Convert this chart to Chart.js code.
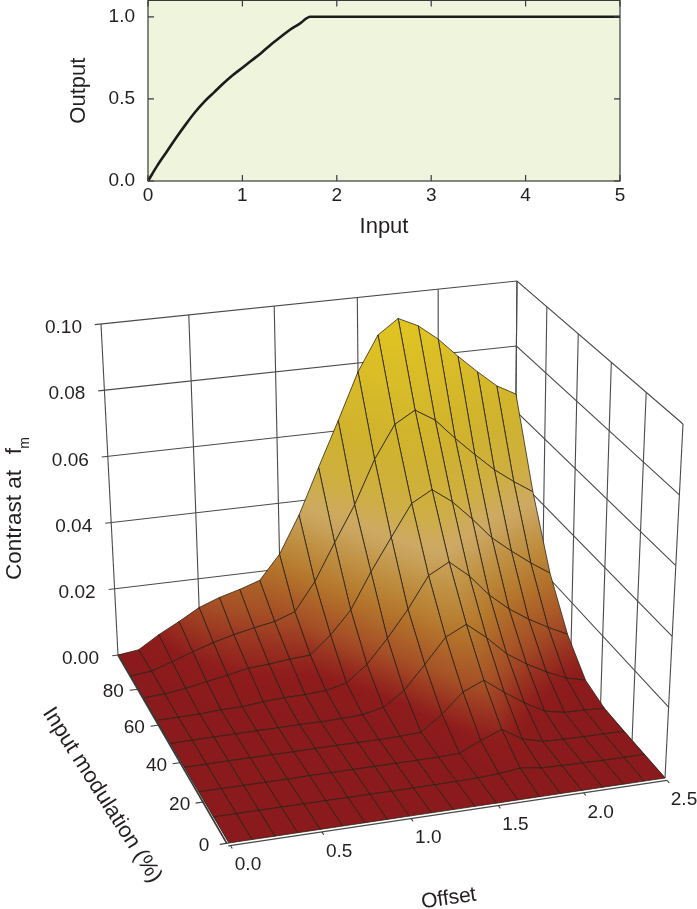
<!DOCTYPE html>
<html>
<head>
<meta charset="utf-8">
<style>
html, body { margin: 0; padding: 0; background: #fff; overflow: hidden; }
#top { position: absolute; left: 0; top: -24px; }
#bottom { position: absolute; left: 0; top: 250px; }
</style>
<script src="https://cdn.jsdelivr.net/npm/chart.js@4/dist/chart.umd.min.js"></script>
</head>
<body>
<div id="top" style="width:697px;height:274px"><canvas id="transfer"></canvas></div>
<div id="bottom" style="width:697px;height:659px"><canvas id="surface"></canvas></div>
<script>
// top panel
const inputValues = [0, 0.1, 0.2, 0.3, 0.4, 0.5, 0.6, 0.7, 0.8, 0.9, 1.0, 1.1, 1.2, 1.3, 1.4, 1.5, 1.6, 1.72, 2, 3, 4, 5];
const outputValues = [0, 0.095, 0.18, 0.265, 0.345, 0.42, 0.485, 0.54, 0.595, 0.645, 0.69, 0.735, 0.78, 0.83, 0.875, 0.92, 0.955, 1, 1, 1, 1, 1];

// bottom panel axes
const offsetTicks = [0, 0.5, 1, 1.5, 2, 2.5];
const modulationTicks = [0, 20, 40, 60, 80];
const modulationWall = [0, 20, 40, 60, 80, 100];
const contrastTicks = [0, 0.02, 0.04, 0.06, 0.08, 0.1];
const offsetGrid = [0, 0.125, 0.25, 0.375, 0.5, 0.625, 0.75, 0.875, 1, 1.125, 1.25, 1.375, 1.5, 1.625, 1.75, 1.875, 2, 2.125, 2.25, 2.375, 2.5];
const modulationGrid = [100, 87.5, 75, 62.5, 50, 37.5, 25, 12.5, 0];

// contrast at fm, one list per modulation row, left to right along offset
const contrast100 = [0, 0.0008, 0.0046, 0.0078, 0.0113, 0.0136, 0.0153, 0.0173, 0.0245, 0.0357, 0.0495, 0.0631, 0.0773, 0.0879, 0.0923, 0.0894, 0.0847, 0.0788, 0.0734, 0.0684, 0.0652];
const contrast875 = [0, 0.0007, 0.0027, 0.0049, 0.0069, 0.0085, 0.0098, 0.0109, 0.0131, 0.0214, 0.0324, 0.0431, 0.0561, 0.066, 0.0696, 0.0659, 0.0597, 0.0541, 0.0488, 0.0445, 0.0407];
const contrast750 = [0, 0.0004, 0.0012, 0.0024, 0.0035, 0.0048, 0.0052, 0.0059, 0.0063, 0.0115, 0.0182, 0.0288, 0.0384, 0.0478, 0.0512, 0.0469, 0.041, 0.0346, 0.0299, 0.0256, 0.0218];
const contrast625 = [0, 0.0001, 0.0002, 0.0006, 0.0007, 0.0013, 0.0017, 0.0018, 0.0022, 0.0036, 0.0083, 0.0152, 0.023, 0.0322, 0.0355, 0.0306, 0.0242, 0.0193, 0.0155, 0.0123, 0.0095];
const contrast500 = [0, 0.0001, 0.0002, 0.0002, 0.0003, 0.0003, 0.0004, 0.0004, 0.0005, 0.0008, 0.0021, 0.0062, 0.013, 0.0202, 0.0232, 0.0185, 0.013, 0.0092, 0.0061, 0.0035, 0.0021];
const contrast375 = [0, 0, 0.0001, 0.0001, 0.0001, 0.0001, 0.0002, 0.0002, 0.0002, 0.0002, 0.0003, 0.0006, 0.005, 0.0106, 0.0132, 0.0089, 0.005, 0.0018, 0.0006, 0.0005, 0.0002];
const contrast250 = [0, 0, 0, 0, 0, 0.0001, 0.0001, 0.0001, 0.0001, 0.0001, 0.0001, 0.0002, 0.0004, 0.0032, 0.0055, 0.002, 0.0004, 0.0002, 0.0001, 0.0001, 0];
const contrast125 = [0, 0, 0, 0, 0, 0, 0, 0, 0, 0, 0, 0.0001, 0.0002, 0.0005, 0.0012, 0.0004, 0.0002, 0.0001, 0, 0, 0];
const contrast000 = [0, 0, 0, 0, 0, 0, 0, 0, 0, 0, 0, 0, 0, 0, 0, 0, 0, 0, 0, 0, 0];
const contrastRows = [contrast100, contrast875, contrast750, contrast625, contrast500, contrast375, contrast250, contrast125, contrast000];

// colour ramp of the surface
const rampLevels = [0, 0.004, 0.012, 0.022, 0.03, 0.038, 0.047, 0.06, 0.09];
const rampColours = [[138, 26, 28], [143, 28, 28], [165, 78, 38], [181, 120, 44], [192, 146, 68], [205, 169, 102], [206, 175, 64], [208, 178, 46], [224, 196, 34]];

const fontFamily = '"Liberation Sans", Arial, sans-serif';
const textColour = '#231f20';
const wallColour = '#4a4a4a';

// view of the box: corners of floor and lid as seen on the page
function quadMap(p00, p10, p11, p01) {
    const dx1 = p10[0] - p11[0], dx2 = p01[0] - p11[0], sx = p00[0] - p10[0] + p11[0] - p01[0];
    const dy1 = p10[1] - p11[1], dy2 = p01[1] - p11[1], sy = p00[1] - p10[1] + p11[1] - p01[1];
    const den = dx1 * dy2 - dx2 * dy1;
    const g = (sx * dy2 - dx2 * sy) / den, h = (dx1 * sy - sx * dy1) / den;
    const a = p10[0] - p00[0] + g * p10[0], b = p01[0] - p00[0] + h * p01[0];
    const d = p10[1] - p00[1] + g * p10[1], e = p01[1] - p00[1] + h * p01[1];
    return (u, v) => {
        const w = g * u + h * v + 1;
        return [(a * u + b * v + p00[0]) / w, (d * u + e * v + p00[1]) / w];
    };
}
const floorMap = quadMap([229, 843], [665, 778], [514, 606], [118, 655]);
const lidMap = quadMap([217.6, 485], [683, 424], [517, 281], [101, 324]);

function project(offset, modulation, contrast) {
    const u = offset / 2.5, v = modulation / 100, w = contrast / 0.1;
    const a = floorMap(u, v), b = lidMap(u, v);
    return { x: a[0] + (b[0] - a[0]) * w, y: a[1] + (b[1] - a[1]) * w };
}

function colourAt(z) {
    let i = 0;
    while (i < rampLevels.length - 2 && z > rampLevels[i + 1]) i++;
    const t = Math.min(1, Math.max(0, (z - rampLevels[i]) / (rampLevels[i + 1] - rampLevels[i])));
    const c = rampColours[i].map((v, n) => Math.round(v + (rampColours[i + 1][n] - v) * t));
    return 'rgb(' + c.join(',') + ')';
}

// fit a plane through the cell so the colour follows contrast, not the screen
function cellFill(chart, pts, zs) {
    const sx = chart.scales.x, sy = chart.scales.y;
    const px = pts.map(p => sx.getPixelForValue(p.x)), py = pts.map(p => sy.getPixelForValue(p.y));
    const n = zs.length;
    const mx = px.reduce((s, v) => s + v, 0) / n, my = py.reduce((s, v) => s + v, 0) / n, mz = zs.reduce((s, v) => s + v, 0) / n;
    let xx = 0, xy = 0, yy = 0, xz = 0, yz = 0;
    for (let i = 0; i < n; i++) {
        const dx = px[i] - mx, dy = py[i] - my, dz = zs[i] - mz;
        xx += dx * dx; xy += dx * dy; yy += dy * dy; xz += dx * dz; yz += dy * dz;
    }
    const det = xx * yy - xy * xy;
    const gx = (xz * yy - yz * xy) / det, gy = (yz * xx - xz * xy) / det;
    const len = gx * gx + gy * gy;
    const lo = Math.min(...zs), hi = Math.max(...zs);
    if (hi - lo < 0.0002 || !len) return colourAt(mz);
    const grad = chart.ctx.createLinearGradient(
        mx + gx * (lo - mz) / len, my + gy * (lo - mz) / len,
        mx + gx * (hi - mz) / len, my + gy * (hi - mz) / len);
    for (let t = 0; t <= 1.001; t += 0.125) grad.addColorStop(Math.min(t, 1), colourAt(lo + (hi - lo) * t));
    return grad;
}

function wallLine(points, width, colour) {
    return { type: 'scatter', data: points, showLine: true, fill: false, pointRadius: 0, borderColor: colour || wallColour, borderWidth: width || 1.1 };
}

const datasets = [];

// back wall and right wall
contrastTicks.forEach(z => {
    datasets.push(wallLine([project(-0.035, 100, z), project(2.5, 100, z), project(2.5, 0, z)]));
});
offsetTicks.forEach(o => {
    datasets.push(wallLine([project(o, 100, 0), project(o, 100, 0.1)]));
});
modulationWall.forEach(m => {
    datasets.push(wallLine([project(2.5, m, 0), project(2.5, m, 0.1)]));
});

// surface cells, far ones first. lines towards the viewer get a second pass so they read darker
for (let r = 0; r < modulationGrid.length - 1; r++) {
    for (let k = offsetGrid.length - 2; k >= 0; k--) {
        const corners = [[r, k], [r, k + 1], [r + 1, k + 1], [r + 1, k]];
        const zs = corners.map(c => contrastRows[c[0]][c[1]]);
        const pts = corners.map(c => project(offsetGrid[c[1]], modulationGrid[c[0]], contrastRows[c[0]][c[1]]));
        datasets.push({
            type: 'scatter',
            data: pts.concat([pts[0]]),
            showLine: true,
            fill: 'shape',
            pointRadius: 0,
            borderColor: 'rgba(40,32,20,0.9)',
            borderWidth: 0.85,
            backgroundColor: ctx => cellFill(ctx.chart, pts, zs)
        });
        datasets.push(wallLine([pts[0], pts[3]], 0.6, 'rgba(40,32,18,0.7)'));
    }
}

// axis lines and outward ticks along the floor
datasets.push(wallLine([project(0, 100, 0), project(-0.012, 0, 0)], 1.8, '#3a3a3a'));
datasets.push(wallLine([project(-0.012, -1.2, 0), project(2.5, -1.2, 0)], 1.2, '#4a4a4a'));
modulationTicks.forEach(m => {
    datasets.push(wallLine([project(0, m, 0), project(-0.05, m, 0)], 1.1, '#3a3a3a'));
});
offsetTicks.forEach(o => {
    datasets.push(wallLine([project(o, -1.2, 0), project(o, -2.6, 0)], 1.1, '#3a3a3a'));
});

// chart.js paints the first dataset last, so turn the list round
datasets.reverse();

const surfaceLabels = {
    id: 'surfaceLabels',
    afterDraw(chart) {
        const ctx = chart.ctx, sx = chart.scales.x, sy = chart.scales.y;
        const put = (text, x, y, size, angle, align) => {
            ctx.save();
            ctx.translate(sx.getPixelForValue(x), sy.getPixelForValue(y));
            ctx.rotate((angle || 0) * Math.PI / 180);
            ctx.font = (size || 19) + 'px ' + fontFamily;
            ctx.fillStyle = textColour;
            ctx.textAlign = align || 'center';
            ctx.textBaseline = 'middle';
            ctx.fillText(text, 0, 0);
            ctx.restore();
        };
        contrastTicks.forEach(z => {
            const p = project(0, 100, z);
            put(z.toFixed(2), p.x - 19, p.y + 4, 19, 0, 'right');
        });
        modulationTicks.forEach(m => {
            const p = project(0, m, 0);
            put(String(m), p.x - 25, p.y + 3);
        });
        offsetTicks.forEach(o => {
            const p = project(o, 0, 0);
            put(o.toFixed(1), p.x + 19, p.y + 22);
        });
        put('Contrast at', 15, 525, 22.5, -90);
        put('f', 15, 451, 22.5, -90);
        put('m', 25, 443, 14, -90);
        put('Input modulation (%)', 102, 795, 22, 57.5);
        put('Offse', 446, 899, 21, -8);
        put('t', 473, 895, 21, -8);
    }
};

new Chart(document.getElementById('surface'), {
    data: { datasets: datasets },
    options: {
        responsive: true,
        maintainAspectRatio: false,
        animation: false,
        layout: { padding: 0, autoPadding: false },
        plugins: { legend: { display: false }, tooltip: { enabled: false } },
        scales: {
            x: { type: 'linear', min: 0, max: 697, display: false },
            y: { type: 'linear', min: 250, max: 909, reverse: true, display: false }
        }
    },
    plugins: [surfaceLabels]
});

const framePlugin = {
    id: 'frame',
    beforeDraw(chart) {
        const a = chart.chartArea, ctx = chart.ctx;
        ctx.save();
        ctx.fillStyle = '#eff4dc';
        ctx.fillRect(a.left, a.top, a.right - a.left, a.bottom - a.top);
        ctx.restore();
    },
    afterDraw(chart) {
        const a = chart.chartArea, ctx = chart.ctx, sx = chart.scales.x, sy = chart.scales.y;
        ctx.save();
        ctx.strokeStyle = '#3a3a3a';
        ctx.lineWidth = 1.2;
        ctx.strokeRect(a.left, a.top, a.right - a.left, a.bottom - a.top);
        ctx.beginPath();
        sx.ticks.forEach(t => {
            const x = sx.getPixelForValue(t.value);
            ctx.moveTo(x, a.bottom); ctx.lineTo(x, a.bottom - 6);
            ctx.moveTo(x, a.top); ctx.lineTo(x, a.top + 6);
        });
        sy.ticks.forEach(t => {
            const y = sy.getPixelForValue(t.value);
            ctx.moveTo(a.left, y); ctx.lineTo(a.left + 6, y);
            ctx.moveTo(a.right, y); ctx.lineTo(a.right - 6, y);
        });
        ctx.stroke();
        ctx.restore();
    }
};

new Chart(document.getElementById('transfer'), {
    type: 'scatter',
    data: {
        datasets: [{
            data: inputValues.map((x, i) => ({ x: x, y: outputValues[i] })),
            showLine: true,
            cubicInterpolationMode: 'monotone',
            pointRadius: 0,
            borderColor: '#1c1c1c',
            borderWidth: 2.6,
            clip: false
        }]
    },
    options: {
        responsive: true,
        maintainAspectRatio: false,
        animation: false,
        layout: { padding: { left: 66, right: 77, top: 0, bottom: 10 }, autoPadding: false },
        plugins: { legend: { display: false }, tooltip: { enabled: false } },
        scales: {
            x: {
                type: 'linear', min: 0, max: 5,
                afterFit(axis) { axis.height = 59; },
                border: { display: false },
                grid: { drawOnChartArea: false, drawTicks: false },
                ticks: { stepSize: 1, padding: 3, maxRotation: 0, color: textColour, font: { family: fontFamily, size: 19 } },
                title: { display: true, text: 'Input', color: textColour, padding: 0, font: { family: fontFamily, size: 22 } }
            },
            y: {
                type: 'linear', min: 0, max: 1.1,
                afterFit(axis) { axis.width = 82; },
                border: { display: false },
                grid: { drawOnChartArea: false, drawTicks: false },
                ticks: { stepSize: 0.5, includeBounds: false, padding: 13, color: textColour, font: { family: fontFamily, size: 19 }, callback: v => v.toFixed(1) },
                title: { display: true, text: 'Output', color: textColour, padding: 0, font: { family: fontFamily, size: 22 } }
            }
        }
    },
    plugins: [framePlugin]
});
</script>
</body>
</html>
